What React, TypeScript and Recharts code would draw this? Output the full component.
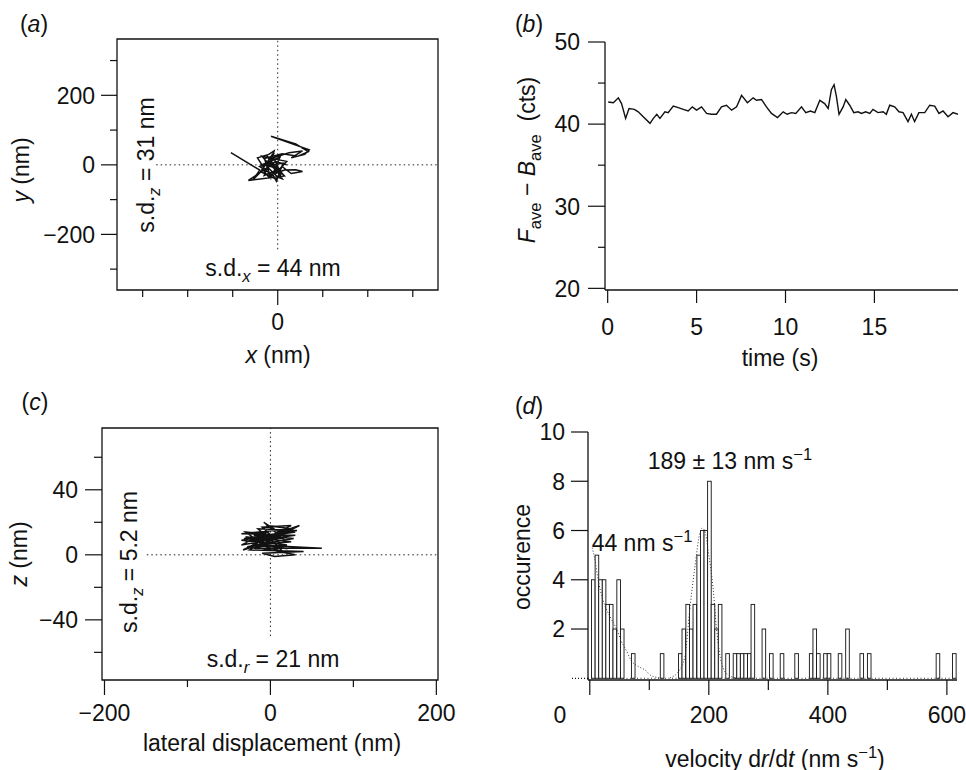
import React from 'react';
import {
  LineChart,
  ComposedChart,
  Line,
  Bar,
  XAxis,
  YAxis,
  ReferenceLine,
  ReferenceArea,
} from 'recharts';

const FONT = '"Liberation Sans", Arial, Helvetica, sans-serif';
const INK = '#111';

// (a) lateral trajectory, x/y in nm
const trajAX = [-104, -40, -55, -30, -45, -20, -8, -15, -40, -10, -3, 5, -25, -35, 0, 20, -5, 15, 40, 55, 30, 10, -20, -30, -10, 25, 55, 30, 60, 70, -15, 40, 68, 45, 10, -30, -20, 0, 10, -25, -5, -35, 5, -15, -28, 8, -12, -38, -2, 12, -22, -8, -30, 0, -18, 15, -65, -20, -5, 20];
const trajAY = [35, -15, -43, -10, 20, 30, 40, 5, -5, -30, -47, -20, 10, 25, 15, 10, -25, -15, -14, -19, -25, -5, -35, -20, 20, 35, 40, 20, 30, 43, 82, 60, 38, 25, 32, 18, -10, -35, -40, 28, -8, 0, 22, -38, 12, -28, 30, -20, -42, 5, -2, 35, -30, -15, 15, -32, -45, -5, 10, 0];

// (b) intensity trace
const timeS = [0.03, 0.32, 0.6, 0.78, 1.01, 1.2, 1.5, 1.72, 2.0, 2.38, 2.57, 2.76, 2.94, 3.22, 3.4, 3.69, 3.97, 4.25, 4.53, 4.76, 5.0, 5.28, 5.56, 5.84, 6.12, 6.4, 6.68, 6.97, 7.25, 7.53, 7.86, 8.18, 8.37, 8.65, 8.93, 9.21, 9.55, 9.87, 10.09, 10.34, 10.58, 10.9, 11.14, 11.4, 11.65, 11.93, 12.2, 12.4, 12.58, 12.73, 12.86, 13.01, 13.24, 13.39, 13.61, 13.84, 14.08, 14.27, 14.51, 14.74, 14.92, 15.2, 15.49, 15.67, 15.86, 16.14, 16.38, 16.61, 16.89, 17.08, 17.26, 17.5, 17.83, 18.11, 18.39, 18.63, 18.86, 19.14, 19.42, 19.7];
const signal = [42.7, 42.6, 43.2, 42.5, 40.7, 41.9, 41.8, 41.5, 40.9, 40.1, 40.7, 41.2, 40.7, 41.5, 41.4, 42.2, 42.0, 41.8, 41.6, 42.1, 41.7, 42.1, 41.3, 41.2, 41.2, 42.1, 42.3, 41.7, 42.1, 43.5, 42.6, 43.2, 42.9, 43.0, 42.1, 41.3, 40.8, 41.5, 41.2, 41.4, 41.3, 42.1, 41.4, 41.6, 41.4, 42.9, 42.5, 41.9, 44.2, 44.8, 43.4, 41.2, 42.1, 43.0, 42.3, 41.4, 41.5, 41.3, 41.5, 41.3, 41.8, 41.4, 41.5, 41.2, 42.3, 42.1, 41.5, 41.4, 40.3, 41.2, 40.3, 41.4, 41.4, 42.3, 42.2, 41.3, 41.6, 40.9, 41.4, 41.2];

// (c) lateral vs axial trajectory
const trajCX = [-5, 25, -35, 30, -30, 20, -10, 35, -20, 62, -15, 25, -30, 15, -8, 10, -25, 40, -10, 5, 30, -20, 20, -35, 30, -5, 15, -5, -30, 10, -25, 20, -35, 0, -20, 28, -28, 5, -15, 32, -32, 8, -22, 18, -10, 25, -33, 0];
const trajCZ = [18, 16, 13, 12, 8, 15, 10, 18, 4, 4, 6, 8, 11, 10, 20, 14, 3, 2, 1, -1, 0, 5, 6, 9, 14, 12, 2, 5, 14, 12, 9, 11, 6, 15, 12, 10, 5, 7, 16, 15, 10, 12, 7, 4, 17, 18, 3, 8];

// (d) velocity histogram
const velocity = [5.9, 12, 18, 24, 30, 36, 42, 48.5, 54.5, 73, 121.5, 152, 158, 164.5, 170.5, 176.5, 183, 189, 195, 201, 207, 213, 219, 231.5, 244, 250, 256, 262, 268, 274, 292.5, 305, 323, 347.5, 372, 378, 384, 396, 402, 420.5, 433, 457, 469.5, 585, 612.5];
const occurence = [4, 5, 4, 4, 3, 3, 2, 4, 2, 1, 1, 1, 2, 3, 2, 3, 5, 6, 6, 8, 3, 2, 3, 1, 1, 1, 1, 1, 1, 3, 2, 1, 1, 1, 1, 2, 1, 1, 1, 1, 2, 1, 1, 1, 1];
const fitSlowV = [4, 8, 14, 22, 34, 45, 53, 62, 70, 80, 92, 104, 118];
const fitSlowN = [5.3, 4.9, 4.0, 3.2, 2.5, 2.0, 1.5, 1.1, 0.7, 0.5, 0.35, 0.1, 0.02];
const fitFastV = [135, 150, 160, 168, 176.5, 185, 189, 193, 200, 207, 213, 221.5, 232, 245];
const fitFastN = [0.02, 0.3, 0.9, 2.8, 4.5, 5.9, 6.1, 6.0, 5.0, 3.7, 2.0, 0.6, 0.15, 0.02];
const BIN_PX = 3.6; // one 6 nm bin on the (d) axis

const trajA = trajAX.map((x, i) => ({ x, y: trajAY[i] }));
const traceB = timeS.map((t, i) => ({ t, f: signal[i] }));
const trajC = trajCX.map((x, i) => ({ x, z: trajCZ[i] }));
const histD = velocity.map((v, i) => ({ v, n: occurence[i] }));
const fitSlow = fitSlowV.map((v, i) => ({ v, n: fitSlowN[i] }));
const fitFast = fitFastV.map((v, i) => ({ v, n: fitFastN[i] }));

const leftTick =
  (labels: Record<string, string>, major: number, minor: number, gap: number, dotted: number[] = []) =>
  (props: any) => {
    const { x, y, payload } = props;
    const label = labels[String(payload.value)];
    const len = label !== undefined || dotted.includes(payload.value) ? major : minor;
    return (
      <g>
        <line
          x1={x}
          x2={x - len}
          y1={y}
          y2={y}
          stroke={INK}
          strokeWidth={1.2}
          strokeDasharray={dotted.includes(payload.value) ? '1 2' : undefined}
        />
        {label !== undefined && (
          <text x={x - gap} y={y} dy="0.36em" textAnchor="end" fontSize={23} fontFamily={FONT} fill={INK}>
            {label}
          </text>
        )}
      </g>
    );
  };

const bottomTick =
  (labels: Record<string, string>, major: number, minor: number, gap: number, shift: Record<string, number> = {}) =>
  (props: any) => {
    const { x, y, payload } = props;
    const key = String(payload.value);
    const label = labels[key];
    const len = label !== undefined ? major : minor;
    return (
      <g>
        <line x1={x} x2={x} y1={y} y2={y + len} stroke={INK} strokeWidth={1.2} />
        {label !== undefined && (
          <text x={x + (shift[key] || 0)} y={y + gap} dy="0.36em" textAnchor="middle" fontSize={23} fontFamily={FONT} fill={INK}>
            {label}
          </text>
        )}
      </g>
    );
  };

// outlined histogram bar of fixed bin width, centred on the bar's x value
const HistBar = (props: any) => {
  const { x, y, width, height } = props;
  if (!height) return <g />;
  const cx = x + (width || 0) / 2;
  return <rect x={cx - BIN_PX / 2} y={y} width={BIN_PX} height={height} fill="#fff" stroke={INK} strokeWidth={0.9} />;
};

const Txt: React.FC<{ x: number; y: number; rotate?: boolean; children: React.ReactNode }> = ({ x, y, rotate, children }) => (
  <div
    style={{
      position: 'absolute',
      left: x,
      top: y,
      transform: `translate(-50%, -50%)${rotate ? ' rotate(-90deg)' : ''}`,
      whiteSpace: 'nowrap',
      fontFamily: FONT,
      fontSize: 23,
      lineHeight: 1,
      color: INK,
      zIndex: 2,
    }}
  >
    {children}
  </div>
);

const Sub: React.FC<{ children: React.ReactNode }> = ({ children }) => (
  <span style={{ fontSize: '0.72em', position: 'relative', top: '0.35em' }}>{children}</span>
);
const Sup: React.FC<{ children: React.ReactNode }> = ({ children }) => (
  <span style={{ fontSize: '0.72em', position: 'relative', top: '-0.55em' }}>{children}</span>
);

const dotted = '1.5 3';

const App: React.FC = () => {
  return (
    <div style={{ position: 'absolute', left: 0, top: 0, width: 966, height: 770, background: '#fff', overflow: 'hidden' }}>
      {/* (a) */}
      <div style={{ position: 'absolute', left: 0, top: 0 }}>
        <LineChart width={483} height={385} data={trajA} margin={{ top: 39, right: 45, bottom: 0, left: 0 }}>
          <XAxis
            type="number"
            dataKey="x"
            domain={[-357, 356]}
            allowDataOverflow
            ticks={[-300, -200, -100, 0, 100, 200, 300]}
            interval={0}
            height={95}
            axisLine={false}
            tickLine={false}
            tickSize={0}
            tickMargin={0}
            tick={bottomTick({ '0': '0' }, 15, 7, 32)}
          />
          <YAxis
            type="number"
            domain={[-360, 362]}
            allowDataOverflow
            ticks={[-300, -200, -100, 0, 100, 200, 300]}
            interval={0}
            width={117}
            axisLine={false}
            tickLine={false}
            tickSize={0}
            tickMargin={0}
            tick={leftTick({ '200': '200', '0': '0', '-200': '−200' }, 16, 7, 22)}
          />
          <ReferenceArea x1={-357} x2={356} y1={-360} y2={362} fill="none" stroke={INK} strokeWidth={1.3} ifOverflow="visible" />
          <ReferenceLine segment={[{ x: 0, y: -243 }, { x: 0, y: 362 }]} stroke="#222" strokeDasharray={dotted} />
          <ReferenceLine segment={[{ x: -270, y: 0 }, { x: 356, y: 0 }]} stroke="#222" strokeDasharray={dotted} />
          <Line type="linear" dataKey="y" stroke={INK} strokeWidth={1.5} dot={false} isAnimationActive={false} />
        </LineChart>
      </div>

      {/* (b) */}
      <div style={{ position: 'absolute', left: 483, top: 0 }}>
        <LineChart width={483} height={385} data={traceB} margin={{ top: 42, right: 8, bottom: 0, left: 0 }}>
          <XAxis
            type="number"
            dataKey="t"
            domain={[-0.15, 19.7]}
            allowDataOverflow
            ticks={[0, 5, 10, 15]}
            interval={0}
            height={95}
            axisLine={{ stroke: INK, strokeWidth: 1.3 }}
            tickLine={false}
            tickSize={0}
            tickMargin={0}
            tick={bottomTick({ '0': '0', '5': '5', '10': '10', '15': '15' }, 13, 13, 37)}
          />
          <YAxis
            type="number"
            domain={[19.8, 50]}
            allowDataOverflow
            ticks={[20, 25, 30, 35, 40, 45, 50]}
            interval={0}
            width={122}
            axisLine={{ stroke: INK, strokeWidth: 1.3 }}
            tickLine={false}
            tickSize={0}
            tickMargin={0}
            tick={leftTick({ '20': '20', '30': '30', '40': '40', '50': '50' }, 17, 7, 25)}
          />
          <Line type="linear" dataKey="f" stroke={INK} strokeWidth={1.4} dot={false} isAnimationActive={false} />
        </LineChart>
      </div>

      {/* (c) */}
      <div style={{ position: 'absolute', left: 0, top: 385 }}>
        <LineChart width={483} height={385} data={trajC} margin={{ top: 43, right: 45, bottom: 0, left: 0 }}>
          <XAxis
            type="number"
            dataKey="x"
            domain={[-203, 202]}
            allowDataOverflow
            ticks={[-200, -100, 0, 100, 200]}
            interval={0}
            height={90}
            axisLine={false}
            tickLine={false}
            tickSize={0}
            tickMargin={0}
            tick={bottomTick({ '-200': '−200', '0': '0', '200': '200' }, 15, 7, 33)}
          />
          <YAxis
            type="number"
            domain={[-77, 78]}
            allowDataOverflow
            ticks={[-60, -40, -20, 0, 20, 40, 60]}
            interval={0}
            width={102}
            axisLine={false}
            tickLine={false}
            tickSize={0}
            tickMargin={0}
            tick={leftTick({ '40': '40', '0': '0', '-40': '−40' }, 17, 8, 24)}
          />
          <ReferenceArea x1={-203} x2={202} y1={-77} y2={78} fill="none" stroke={INK} strokeWidth={1.3} ifOverflow="visible" />
          <ReferenceLine segment={[{ x: 0, y: -50 }, { x: 0, y: 78 }]} stroke="#222" strokeDasharray={dotted} />
          <ReferenceLine segment={[{ x: -149, y: 0 }, { x: 202, y: 0 }]} stroke="#222" strokeDasharray={dotted} />
          <Line type="linear" dataKey="z" stroke={INK} strokeWidth={1.5} dot={false} isAnimationActive={false} />
        </LineChart>
      </div>

      {/* (d) */}
      <div style={{ position: 'absolute', left: 483, top: 385 }}>
        <ComposedChart
          width={483}
          height={385}
          data={histD}
          margin={{ top: 47, right: 9, bottom: 0, left: 0 }}
          barCategoryGap={0}
          barGap={0}
        >
          <XAxis
            type="number"
            dataKey="v"
            domain={[-3, 617]}
            allowDataOverflow
            ticks={[0, 100, 200, 300, 400, 500, 600]}
            interval={0}
            height={90}
            axisLine={{ stroke: INK, strokeWidth: 1.3 }}
            tickLine={false}
            tickSize={0}
            tickMargin={0}
            tick={bottomTick({ '0': '0', '200': '200', '400': '400', '600': '600' }, 15, 10, 35, { '0': -30 })}
          />
          <YAxis
            type="number"
            domain={[-0.07, 10]}
            allowDataOverflow
            ticks={[0, 2, 4, 6, 8, 10]}
            interval={0}
            width={105}
            axisLine={{ stroke: INK, strokeWidth: 1.3 }}
            tickLine={false}
            tickSize={0}
            tickMargin={0}
            tick={leftTick({ '2': '2', '4': '4', '6': '6', '8': '8', '10': '10' }, 17, 17, 23, [0])}
          />
          <ReferenceLine y={0} stroke="#333" strokeDasharray="1 2.5" />
          <Bar dataKey="n" shape={HistBar} isAnimationActive={false} />
          <Line data={fitSlow} type="monotone" dataKey="n" stroke="#333" strokeWidth={1} strokeDasharray="1 2" dot={false} isAnimationActive={false} />
          <Line data={fitFast} type="monotone" dataKey="n" stroke="#333" strokeWidth={1} strokeDasharray="1 2" dot={false} isAnimationActive={false} />
        </ComposedChart>
      </div>

      {/* panel letters */}
      <Txt x={34} y={24}>(<i>a</i>)</Txt>
      <Txt x={529} y={24}>(<i>b</i>)</Txt>
      <Txt x={35} y={402}>(<i>c</i>)</Txt>
      <Txt x={529} y={406}>(<i>d</i>)</Txt>

      {/* (a) texts */}
      <Txt x={278} y={355}><i>x</i> (nm)</Txt>
      <Txt x={21} y={170} rotate><i>y</i> (nm)</Txt>
      <Txt x={146} y={165} rotate>s.d.<Sub><i>z</i></Sub> = 31 nm</Txt>
      <Txt x={273} y={268}>s.d.<Sub><i>x</i></Sub> = 44 nm</Txt>

      {/* (b) texts */}
      <Txt x={780} y={358}>time (s)</Txt>
      <Txt x={527} y={160} rotate>
        <i>F</i><Sub>ave</Sub> − <i>B</i><Sub>ave</Sub>&nbsp; (cts)
      </Txt>

      {/* (c) texts */}
      <Txt x={272} y={743}>lateral displacement (nm)</Txt>
      <Txt x={19} y={554} rotate><i>z</i> (nm)</Txt>
      <Txt x={129} y={562} rotate>s.d.<Sub><i>z</i></Sub> = 5.2 nm</Txt>
      <Txt x={273} y={659}>s.d.<Sub><i>r</i></Sub> = 21 nm</Txt>

      {/* (d) texts */}
      <Txt x={522} y={557} rotate>occurence</Txt>
      <Txt x={775} y={759}>velocity d<i>r</i>/d<i>t</i> (nm s<Sup>−1</Sup>)</Txt>
      <Txt x={730} y={461}>189 ± 13 nm s<Sup>−1</Sup></Txt>
      <Txt x={642} y={543}>44 nm s<Sup>−1</Sup></Txt>
    </div>
  );
};

export default App;
